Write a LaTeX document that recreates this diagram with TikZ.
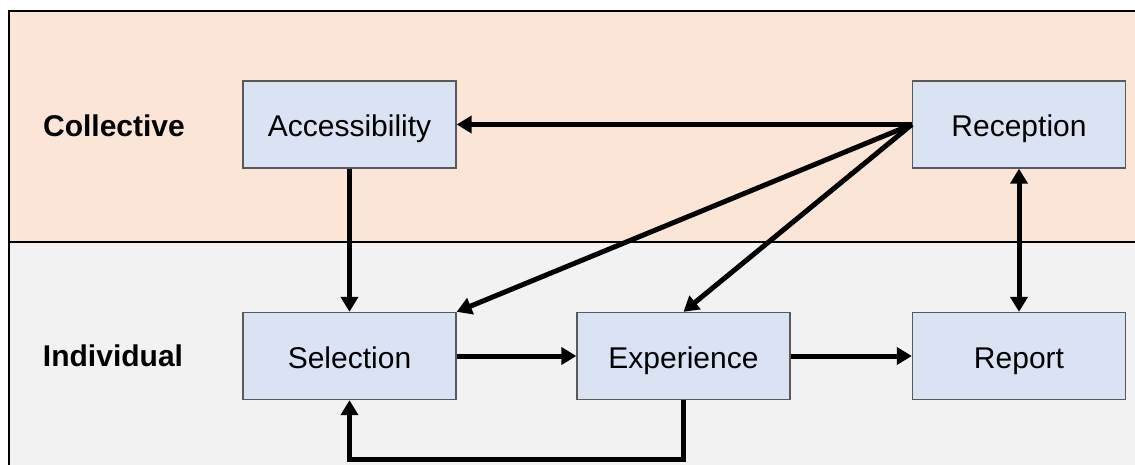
\documentclass[tikz,border=0pt]{standalone}
\usepackage{fontspec}
\setmainfont{Liberation Sans}
\usetikzlibrary{arrows.meta}
\definecolor{bandtop}{HTML}{FBE5D6}
\definecolor{bandbot}{HTML}{F2F2F2}
\definecolor{boxfill}{HTML}{DAE3F3}
\definecolor{boxline}{HTML}{595959}
\tikzset{
  stage/.style={draw=boxline, line width=1.3pt, fill=boxfill, minimum width=213pt,
    minimum height=87pt, inner sep=0pt, text height=25pt, text depth=0pt,
    font=\fontsize{30}{36}\selectfont},
  level/.style={font=\fontsize{30}{36}\selectfont\bfseries, inner sep=0pt},
  flow/.style={line width=5pt, -{Triangle[length=15pt,width=17pt]}},
  flow2/.style={line width=5pt, {Triangle[length=15pt,width=17pt]}-{Triangle[length=15pt,width=17pt]}}
}
\begin{document}
\begin{tikzpicture}[x=1pt,y=-1pt]
  \useasboundingbox (0,0) rectangle (1135,465);
  \fill[white] (0,0) rectangle (1135,465);
  % bands
  \fill[bandtop] (9,11) rectangle (1135,242);
  \fill[bandbot] (9,242) rectangle (1135,465);
  \draw[line width=1.5pt] (9,465) -- (9,11) -- (1135,11);
  \draw[line width=1.5pt] (9,242) -- (1135,242);
  % level labels
  \node[level] (coll) at (114,126) {Collective};
  \node[level] (indiv) at (113,356) {Individual};
  % stages
  \node[stage] (acc) at (349.5,124.5) {Accessibility};
  \node[stage] (rec) at (1019,124.5) {Reception};
  \node[stage] (sel) at (349.5,356) {Selection};
  \node[stage] (exp) at (683.5,356) {Experience};
  \node[stage] (rep) at (1019,356) {Report};
  \coordinate (loopR) at (683.5,459);
  \coordinate (loopL) at (349.5,459);
  % connectors
  \draw[flow] (rec.west) -- (acc.east);
  \draw[flow] (rec.west) -- (sel.north east);
  \draw[flow] (rec.west) -- (exp.north);
  \draw[flow] (acc.south) -- (sel.north);
  \draw[flow2] (rec.south) -- (rep.north);
  \draw[flow] (sel.east) -- (exp.west);
  \draw[flow] (exp.east) -- (rep.west);
  \draw[flow] (exp.south) -- (loopR) -- (loopL) -- (sel.south);
\end{tikzpicture}
\end{document}
